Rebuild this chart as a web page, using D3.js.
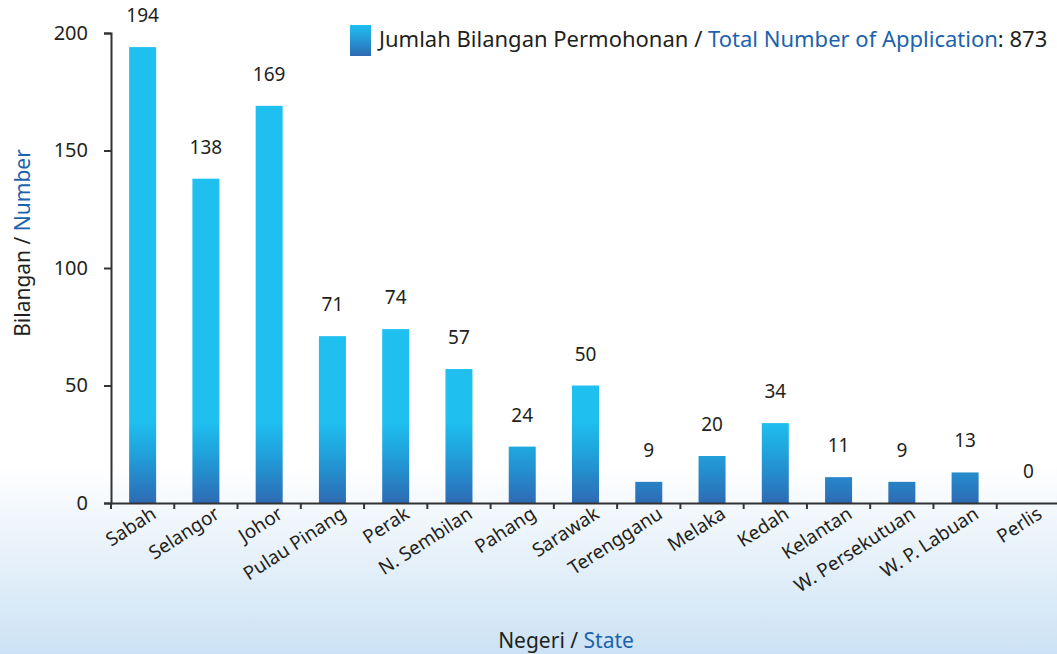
<!DOCTYPE html>
<html>
<head>
<meta charset="utf-8">
<script src="https://cdn.jsdelivr.net/npm/d3@7"></script>
<style>
  body { margin: 0; padding: 0; background: #fff; }
  svg text { font-family: "Noto Sans", "Open Sans", sans-serif; fill: #231f20; }
</style>
</head>
<body>
<div id="chart"></div>
<script>
// data
var states = ["Sabah", "Selangor", "Johor", "Pulau Pinang", "Perak", "N. Sembilan", "Pahang",
              "Sarawak", "Terengganu", "Melaka", "Kedah", "Kelantan", "W. Persekutuan", "W. P. Labuan", "Perlis"];
var counts = [194, 138, 169, 71, 74, 57, 24, 50, 9, 20, 34, 11, 9, 13, 0];
var yTicks = [0, 50, 100, 150, 200];
var total = 873;

const W = 1057, H = 654;
const padL = 111, padR = 1060, padT = 33, padB = 503;
const blue = "#1c63ad";

const svg = d3.select("#chart").append("svg")
  .attr("width", W).attr("height", H);

const defs = svg.append("defs");

// background fade at the bottom
const bg = defs.append("linearGradient").attr("id", "bg")
  .attr("gradientUnits", "userSpaceOnUse")
  .attr("x1", 0).attr("y1", 465).attr("x2", 0).attr("y2", H);
bg.append("stop").attr("offset", "0%").attr("stop-color", "#ffffff");
bg.append("stop").attr("offset", "100%").attr("stop-color", "#cce2f4");

// bar gradient fixed to the plot (not per bar)
const bar = defs.append("linearGradient").attr("id", "bar")
  .attr("gradientUnits", "userSpaceOnUse")
  .attr("x1", 0).attr("y1", 422).attr("x2", 0).attr("y2", padB);
bar.append("stop").attr("offset", "0%").attr("stop-color", "#1fbff0");
bar.append("stop").attr("offset", "35%").attr("stop-color", "#1fa5de");
bar.append("stop").attr("offset", "100%").attr("stop-color", "#2d6bb4");

const leg = defs.append("linearGradient").attr("id", "leg")
  .attr("x1", 0).attr("y1", 0).attr("x2", 0).attr("y2", 1);
leg.append("stop").attr("offset", "0%").attr("stop-color", "#1fbff0");
leg.append("stop").attr("offset", "100%").attr("stop-color", "#2d6bb4");

svg.append("rect").attr("width", W).attr("height", H).attr("fill", "url(#bg)");

const x = d3.scaleBand().domain(states).range([padL, padR]).paddingInner(0).paddingOuter(0);
const y = d3.scaleLinear().domain([0, 200]).range([padB, padT]);
const bw = 27;

// bars
svg.selectAll("rect.bar")
  .data(states)
  .enter()
  .append("rect")
  .attr("class", "bar")
  .attr("x", (d) => x(d) + x.bandwidth() / 2 - bw / 2)
  .attr("y", (d, i) => y(counts[i]))
  .attr("width", bw)
  .attr("height", (d, i) => y(0) - y(counts[i]))
  .attr("fill", "url(#bar)");

// value labels
svg.selectAll("text.val")
  .data(states)
  .enter()
  .append("text")
  .attr("class", "val")
  .attr("x", (d) => x(d) + x.bandwidth() / 2)
  .attr("y", (d, i) => y(counts[i]) - 25)
  .attr("text-anchor", "middle")
  .style("font-size", "19px")
  .text((d, i) => counts[i]);

// y axis
const yAxis = svg.append("g")
  .attr("transform", "translate(" + padL + ",0)")
  .call(d3.axisLeft(y).tickValues(yTicks).tickSize(7).tickPadding(16));
yAxis.selectAll("text").style("font-size", "20px");

// x axis with ticks between the bars
const xAxis = svg.append("g")
  .attr("transform", "translate(0," + padB + ")")
  .call(d3.axisBottom(x).tickSize(0).tickFormat(""));
xAxis.selectAll(".tick").remove();
xAxis.selectAll("line.sep")
  .data(states)
  .enter()
  .append("line")
  .attr("class", "sep")
  .attr("x1", (d) => x(d)).attr("x2", (d) => x(d))
  .attr("y1", 0).attr("y2", 6);

svg.selectAll(".domain, .tick line, line.sep")
  .attr("stroke", "#333").attr("stroke-width", 2);

// rotated category labels
svg.selectAll("text.cat")
  .data(states)
  .enter()
  .append("text")
  .attr("class", "cat")
  .attr("text-anchor", "end")
  .attr("transform", (d) => "translate(" + (x(d) + x.bandwidth() / 2 + 15) + "," + (padB + 14) + ") rotate(-33)")
  .style("font-size", "19px")
  .text((d) => d);

// axis titles
const yt = svg.append("text")
  .attr("transform", "translate(30,243) rotate(-90)")
  .attr("text-anchor", "middle")
  .style("font-size", "21px");
yt.append("tspan").text("Bilangan / ");
yt.append("tspan").style("fill", blue).text("Number");

const xt = svg.append("text")
  .attr("x", 566).attr("y", 648)
  .attr("text-anchor", "middle")
  .style("font-size", "21px");
xt.append("tspan").text("Negeri / ");
xt.append("tspan").style("fill", blue).text("State");

// legend
svg.append("rect")
  .attr("x", 350).attr("y", 25).attr("width", 21).attr("height", 31)
  .attr("fill", "url(#leg)");
const lt = svg.append("text")
  .attr("x", 379).attr("y", 47)
  .style("font-size", "22px");
lt.append("tspan").text("Jumlah Bilangan Permohonan / ");
lt.append("tspan").style("fill", blue).text("Total Number of Application");
lt.append("tspan").text(": " + total);
</script>
</body>
</html>
